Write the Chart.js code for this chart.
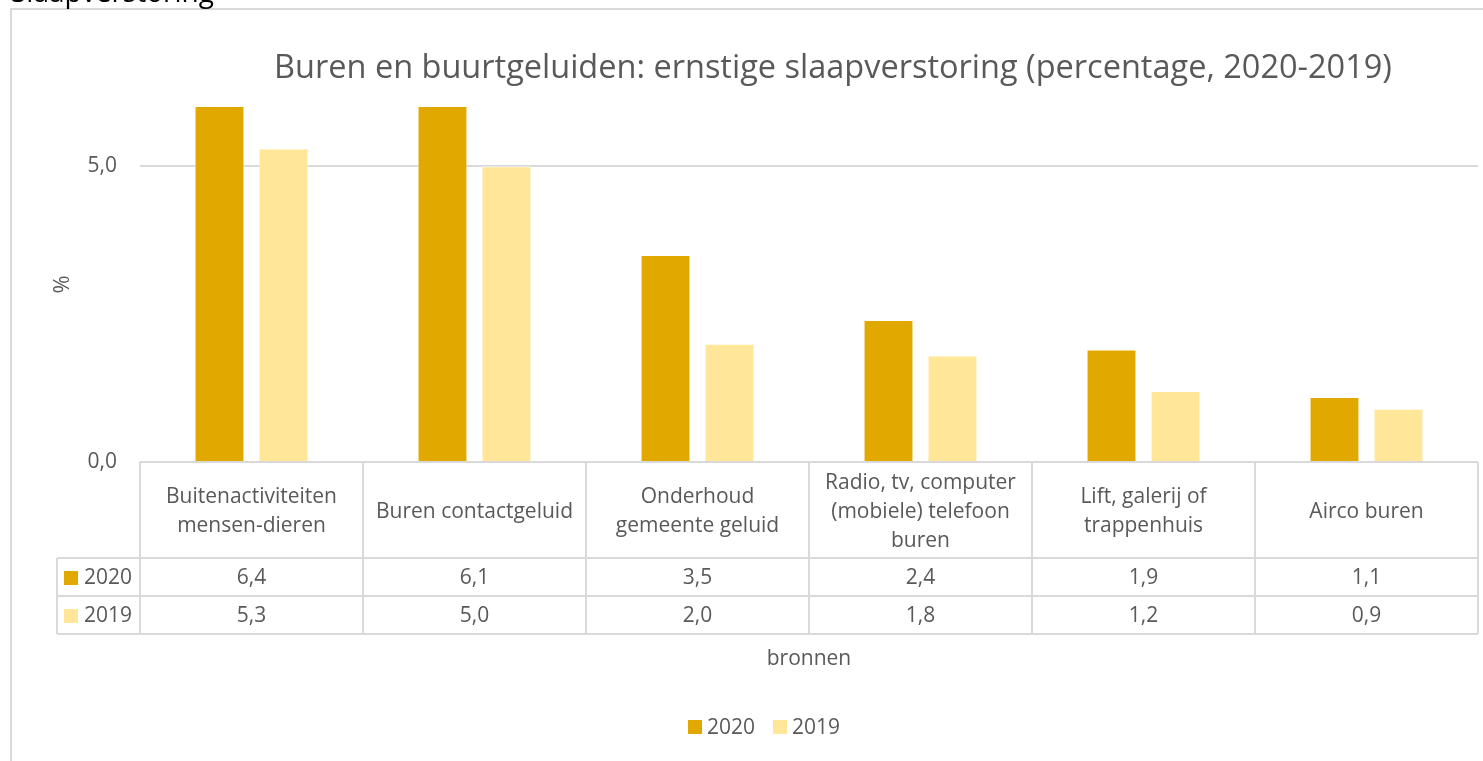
<!DOCTYPE html>
<html>
<head>
<meta charset="utf-8">
<script src="https://cdn.jsdelivr.net/npm/chart.js@4/dist/chart.umd.min.js"></script>
<style>
  html, body { margin: 0; padding: 0; background: #fff; overflow: hidden; }
  #wrap { position: relative; width: 1483px; height: 761px; }
</style>
</head>
<body>
<div id="wrap"><canvas id="chart"></canvas></div>
<script>
// Gegevens
const categories = [
  ['Buitenactiviteiten', 'mensen-dieren'],
  ['Buren contactgeluid'],
  ['Onderhoud', 'gemeente geluid'],
  ['Radio, tv, computer', '(mobiele) telefoon', 'buren'],
  ['Lift, galerij of', 'trappenhuis'],
  ['Airco buren']
];
const values2020 = [6.4, 6.1, 3.5, 2.4, 1.9, 1.1];
const values2019 = [5.3, 5.0, 2.0, 1.8, 1.2, 0.9];
const seriesNames = ['2020', '2019'];
const seriesColors = ['#E1A900', '#FFE699'];
const yTicks = [0, 5];
const chartTitle = 'Buren en buurtgeluiden: ernstige slaapverstoring (percentage, 2020-2019)';
const sheetLabel = 'Slaapverstoring';
const xTitle = 'bronnen';
const yTitle = '%';

const FONT = '"Open Sans", "Noto Sans", sans-serif';
const TEXT = '#595959';
const LINE = '#d9d9d9';

function fmt(v) {
  return v.toFixed(1).replace('.', ',');
}

// Plugin: kader, titel, gegevenstabel en legenda (zoals Excel)
const excelPlugin = {
  id: 'excelParts',
  beforeDraw(chart) {
    const ctx = chart.ctx;
    ctx.save();
    ctx.strokeStyle = LINE;
    ctx.lineWidth = 2;
    ctx.strokeRect(11, 9, 1520, 800);
    ctx.fillStyle = '#000';
    ctx.font = '28px ' + FONT;
    ctx.textBaseline = 'alphabetic';
    ctx.textAlign = 'left';
    ctx.fillText(sheetLabel, 11, 2);
    ctx.restore();
  },
  afterDraw(chart) {
    const { ctx, chartArea } = chart;
    const x = chart.scales.x;
    const colW = (chartArea.right - chartArea.left) / categories.length;
    const top = chartArea.bottom;
    const headH = 96;
    const rowH = 38;
    const legendLeft = 57;
    const rows = [values2020, values2019];

    ctx.save();
    // titel
    ctx.fillStyle = TEXT;
    ctx.font = '32.5px ' + FONT;
    ctx.textAlign = 'center';
    ctx.textBaseline = 'middle';
    ctx.fillText(chartTitle, 833, 69);

    // tabellijnen
    ctx.strokeStyle = LINE;
    ctx.lineWidth = 2;
    ctx.beginPath();
    for (let i = 0; i <= categories.length; i++) {
      const lx = chartArea.left + i * colW;
      ctx.moveTo(lx, top);
      ctx.lineTo(lx, top + headH + rowH * 2);
    }
    ctx.moveTo(legendLeft, top + headH);
    ctx.lineTo(legendLeft, top + headH + rowH * 2);
    for (let r = 0; r <= 2; r++) {
      const ly = top + headH + r * rowH;
      ctx.moveTo(legendLeft, ly);
      ctx.lineTo(chartArea.right, ly);
    }
    ctx.stroke();

    // categorie-labels
    ctx.fillStyle = TEXT;
    ctx.font = '21px ' + FONT;
    ctx.textAlign = 'center';
    ctx.textBaseline = 'middle';
    const lh = 29;
    categories.forEach((lines, i) => {
      const cx = x.getPixelForValue(i);
      const cy = top + headH / 2 + 2 - ((lines.length - 1) * lh) / 2;
      lines.forEach((t, j) => ctx.fillText(t, cx, cy + j * lh));
    });

    // waarden
    rows.forEach((vals, r) => {
      const cy = top + headH + r * rowH + rowH / 2 + 1;
      vals.forEach((v, i) => ctx.fillText(fmt(v), x.getPixelForValue(i), cy));
      // legenda in tabel
      ctx.fillStyle = seriesColors[r];
      ctx.fillRect(legendLeft + 7, cy - 7, 14, 14);
      ctx.fillStyle = TEXT;
      ctx.textAlign = 'left';
      ctx.fillText(seriesNames[r], legendLeft + 27, cy);
      ctx.textAlign = 'center';
    });

    // as-titel
    ctx.fillText(xTitle, (chartArea.left + chartArea.right) / 2, 659);

    // legenda onderaan
    ctx.textAlign = 'left';
    let lx = 688;
    seriesNames.forEach((name, i) => {
      ctx.fillStyle = seriesColors[i];
      ctx.fillRect(lx, 720, 14, 14);
      ctx.fillStyle = TEXT;
      ctx.fillText(name, lx + 19, 728);
      lx += 19 + ctx.measureText(name).width + 18;
    });
    ctx.restore();
  }
};

const chart = new Chart(document.getElementById('chart'), {
  type: 'bar',
  data: {
    labels: categories,
    datasets: seriesNames.map((name, i) => ({
      label: name,
      data: i === 0 ? values2020 : values2019,
      backgroundColor: seriesColors[i],
      borderColor: 'rgba(255,255,255,0.7)',
      borderWidth: 1,
      categoryPercentage: 0.574,
      barPercentage: 0.78
    }))
  },
  options: {
    responsive: true,
    maintainAspectRatio: false,
    animation: false,
    layout: {
      padding: { left: 50, top: 107, right: 5, bottom: 761 - 462 }
    },
    plugins: {
      legend: { display: false },
      title: { display: false },
      tooltip: { enabled: false }
    },
    scales: {
      x: {
        display: false
      },
      y: {
        min: 0,
        max: 6,
        afterBuildTicks(scale) {
          scale.ticks = yTicks.map(v => ({ value: v }));
        },
        afterFit(scale) {
          scale.width = 90;
        },
        border: { display: false },
        grid: {
          color: LINE,
          lineWidth: 2,
          drawTicks: false
        },
        ticks: {
          color: TEXT,
          padding: 23,
          font: { family: FONT, size: 21 },
          callback: v => fmt(v)
        },
        title: {
          display: true,
          text: yTitle,
          color: TEXT,
          padding: 0,
          font: { family: FONT, size: 22 }
        }
      }
    }
  },
  plugins: [excelPlugin]
});
</script>
</body>
</html>
